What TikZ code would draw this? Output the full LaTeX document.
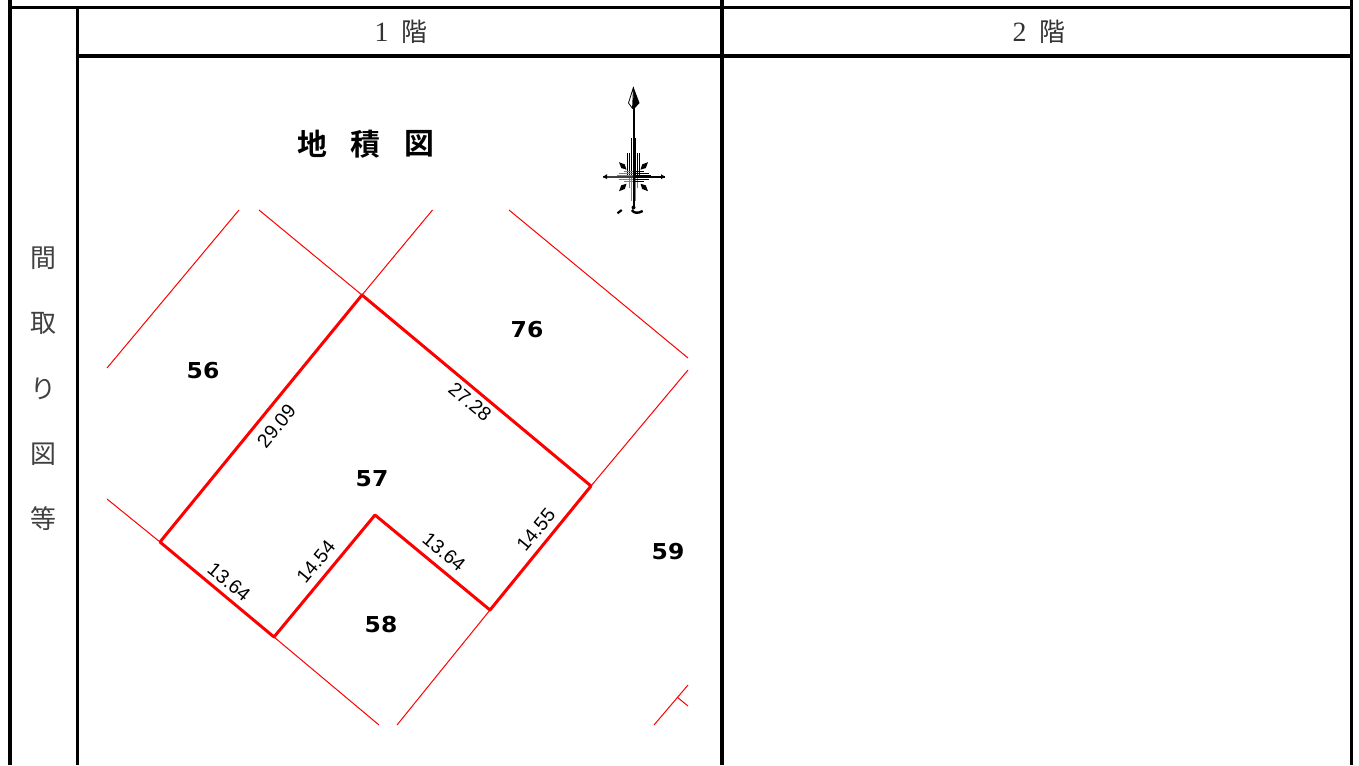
\documentclass[tikz,border=0pt]{standalone}
\usepackage{fontspec}
\setmainfont{Liberation Serif}
\setsansfont{Liberation Sans}
\newfontfamily\jpfont{Noto Sans CJK JP}
\newfontfamily\jpbold{Noto Sans CJK JP Bold}
\newfontfamily\plotfont[FakeStretch=1.07]{DejaVu Sans Bold}
\tikzset{
  frameline/.style={line width=3.4bp,black,line cap=rect},
  boundary/.style={line width=3bp,red,line cap=round,line join=round},
  thinred/.style={line width=1bp,red},
  headtext/.style={inner sep=0pt,text=black!80,font=\fontsize{28}{28}\selectfont},
  sidetext/.style={inner sep=0pt,font=\jpfont\fontsize{26}{26}\selectfont,text=black!75},
  lotnum/.style={inner sep=0pt,font=\plotfont\fontsize{22}{22}\selectfont},
  dimtext/.style={inner sep=0pt,font=\sffamily\fontsize{19.5}{19.5}\selectfont},
  titletext/.style={inner sep=0pt,font=\jpbold\fontsize{30}{30}\selectfont},
  stripe/.style={line width=1.4bp,black},
  stripeg/.style={line width=1.4bp,black!50},
}
\begin{document}
\begin{tikzpicture}[x=1bp,y=-1bp]
\useasboundingbox (0,0) rectangle (1359,765);
\fill[white] (0,0) rectangle (1359,765);
% named frame points
\coordinate (tl) at (10,7.5); \coordinate (tr) at (1351.5,7.5);
\coordinate (t0) at (10,0); \coordinate (b0) at (10,765);
\coordinate (t1) at (77.5,7.5); \coordinate (b1) at (77.5,765);
\coordinate (t2) at (722,0); \coordinate (b2) at (722,765);
\coordinate (t3) at (1351.5,0); \coordinate (b3) at (1351.5,765);
\coordinate (ml) at (77.5,56); \coordinate (mr) at (1351.5,56);
\draw[frameline,line cap=butt] (t0) -- (b0);
\draw[frameline,line cap=butt] (t1) -- (b1);
\draw[frameline,line cap=butt] (t2) -- (b2);
\draw[frameline,line cap=butt] (t3) -- (b3);
\draw[frameline] (tl) -- (tr);
\draw[frameline] (ml) -- (mr);
% headers
\node[headtext] (h1) at (401,32) {1\hspace{13bp}{\jpfont\fontsize{26}{26}\selectfont 階}};
\node[headtext] (h2) at (1039,32) {2\hspace{13bp}{\jpfont\fontsize{26}{26}\selectfont 階}};
% side text
\node[sidetext] (s1) at (43,258) {間};
\node[sidetext] (s2) at (43,323) {取};
\node[sidetext] (s3) at (43,389) {り};
\node[sidetext] (s4) at (43,454) {図};
\node[sidetext] (s5) at (43,519) {等};
% title
\node[titletext] (ti1) at (312,144) {地};
\node[titletext] (ti2) at (365,144) {積};
\node[titletext] (ti3) at (419.5,144) {図};
% north mark
\coordinate (nTip) at (633.5,87);
\coordinate (nNeck) at (633.5,108);
\coordinate (nC) at (633.5,176.7);
\coordinate (nS) at (633.5,207);
\coordinate (nW) at (603,176.7);
\coordinate (nE) at (665,176.7);
% upper stripes
\foreach \dx/\top in {-6/153,-4/153,-2/138,0/138,2/138,4/153,6/153}{
  \draw[stripe] (633.5+\dx,\top) -- (633.5+\dx,176.7);
}
% lower stripes
\foreach \dx/\bot in {-4/188,-2/201,0/203,2/201,4/188}{
  \draw[stripeg] (633.5+\dx,176.7) -- (633.5+\dx,\bot);
}
% side stripes
\foreach \dy/\w in {-5/10,-3/15,-1/17,1/17,3/15,5/10}{
  \draw[stripeg] (633.5-\w,176.7+\dy) -- (633.5,176.7+\dy);
  \draw[stripe] (633.5,176.7+\dy) -- (633.5+\w,176.7+\dy);
}
\draw[line width=1.6bp,black!75] (nC) -- (nW);
\draw[line width=1.6bp,black] (nC) -- (nE);
\draw[line width=2bp,black] (nNeck) -- (nS);
\fill[black] (nW) -- (607,174.2) -- (607,179.2) -- cycle;
\fill[black] (nE) -- (661,174.2) -- (661,179.2) -- cycle;
\filldraw[fill=white,draw=black,line width=.8bp,line join=round] (nTip) -- (628.5,103) -- (632.5,108.5) -- cycle;
\fill[black] (nTip) -- (639.5,103) -- (634.5,108.5) -- (633,108.5) -- cycle;
\foreach \sx/\sy in {-1/-1,1/-1,-1/1,1/1}{
  \fill[black] (633.5+\sx*14.5,176.7+\sy*14.5)
    -- (633.5+\sx*10.5-\sy*1.8,176.7+\sy*10.5+\sx*1.8)
    -- (633.5+\sx*7,176.7+\sy*7)
    -- (633.5+\sx*10.5+\sy*1.8,176.7+\sy*10.5-\sx*1.8) -- cycle;
}
\fill[black] (633.5,207.5) circle (2bp);
\draw[line width=2.2bp,black] (617.5,213.3) -- (621.7,210);
\draw[line width=2.4bp,black] (631.8,210) .. controls (634,213.5) and (638,213.5) .. (642.7,211);
% plot vertices
\coordinate (A) at (362,295);
\coordinate (B) at (591,486);
\coordinate (C) at (490,610);
\coordinate (D) at (375,515);
\coordinate (E) at (274,637);
\coordinate (F) at (160,542);
% thin neighbour lines
\coordinate (a1) at (432.5,210); \coordinate (a2) at (259,210);
\coordinate (n1) at (239,210);   \coordinate (n2) at (107,368);
\coordinate (r1) at (509,210);   \coordinate (r2) at (688,358);
\coordinate (b1r) at (688,370);
\coordinate (f1) at (107,499);
\coordinate (e1) at (379,725);
\coordinate (c1) at (397,725);
\coordinate (x1) at (654,725); \coordinate (x2) at (688,685);
\coordinate (x3) at (677,697); \coordinate (x4) at (688,706);
\draw[thinred] (A) -- (a1);
\draw[thinred] (A) -- (a2);
\draw[thinred] (n1) -- (n2);
\draw[thinred] (r1) -- (r2);
\draw[thinred] (B) -- (b1r);
\draw[thinred] (F) -- (f1);
\draw[thinred] (E) -- (e1);
\draw[thinred] (C) -- (c1);
\draw[thinred] (x1) -- (x2);
\draw[thinred] (x3) -- (x4);
% boundary
\draw[boundary] (A) -- (B) -- (C) -- (D) -- (E) -- (F) -- cycle;
% lot numbers
\node[lotnum] (l56) at (203,371) {56};
\node[lotnum] (l76) at (527,330) {76};
\node[lotnum] (l57) at (372,479) {57};
\node[lotnum] (l58) at (381,625) {58};
\node[lotnum] (l59) at (668,552) {59};
% dimensions
\node[dimtext,rotate=50.5] (d1) at (276.5,426) {29.09};
\node[dimtext,rotate=-39.8] (d2) at (470,402) {27.28};
\node[dimtext,rotate=50.5] (d3) at (536,530) {14.55};
\node[dimtext,rotate=-39.8] (d4) at (444,552) {13.64};
\node[dimtext,rotate=50.5] (d5) at (316,562) {14.54};
\node[dimtext,rotate=-39.8] (d6) at (229,582) {13.64};
\end{tikzpicture}
\end{document}
